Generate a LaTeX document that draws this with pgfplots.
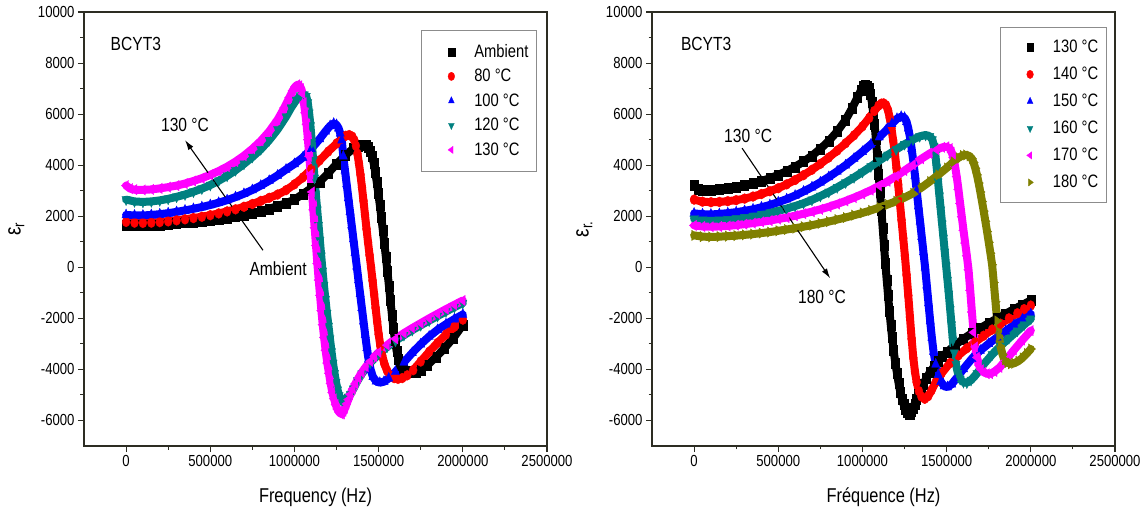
\documentclass[border=0pt]{standalone}
\usepackage{fontspec}
\setmainfont{Liberation Sans}[FakeStretch=0.82]
\usepackage{pgfplots}
\usepackage{pgfplotstable}
\pgfplotsset{compat=1.18}
\usetikzlibrary{arrows.meta}

\definecolor{cBlack}{RGB}{0,0,0}
\definecolor{cRed}{RGB}{255,0,0}
\definecolor{cBlue}{RGB}{0,0,255}
\definecolor{cTeal}{RGB}{0,128,128}
\definecolor{cMag}{RGB}{255,0,255}
\definecolor{cOlive}{RGB}{128,128,0}
\definecolor{axisgray}{RGB}{45,45,35}

% real part of the permittivity, f in kHz
\pgfplotstableread{
f e
0 1660
50 1640
100 1640
150 1650
200 1670
250 1690
300 1720
350 1750
400 1780
450 1810
500 1850
550 1890
600 1940
650 1990
700 2050
750 2120
800 2200
850 2290
900 2400
950 2510
1000 2650
1050 2870
1100 3100
1150 3350
1200 3680
1250 4050
1300 4380
1350 4650
1380 4740
1405 4780
1425 4790
1440 4720
1452 4560
1462 4340
1471 4060
1480 3720
1489 3330
1498 2900
1507 2440
1516 1950
1525 1450
1534 930
1543 400
1552 -150
1561 -720
1570 -1300
1579 -1870
1588 -2400
1597 -2870
1607 -3280
1618 -3600
1630 -3830
1645 -3980
1665 -4070
1690 -4100
1720 -4090
1750 -4020
1790 -3830
1840 -3520
1890 -3180
1945 -2760
2000 -2260
}\tAmb

\pgfplotstableread{
f e
0 1780
50 1750
100 1740
150 1750
200 1770
250 1800
300 1840
350 1880
400 1930
450 1980
500 2040
550 2110
600 2190
650 2270
700 2370
750 2480
800 2600
850 2720
900 2850
950 3020
1000 3250
1050 3520
1100 3850
1150 4190
1200 4530
1250 4850
1280 5030
1305 5150
1325 5180
1343 5120
1355 4980
1365 4760
1374 4450
1383 4070
1392 3630
1401 3130
1410 2600
1419 2050
1428 1500
1437 980
1446 480
1455 0
1464 -520
1473 -1050
1482 -1590
1491 -2120
1500 -2620
1510 -3070
1521 -3450
1534 -3780
1550 -4050
1570 -4240
1592 -4340
1615 -4370
1640 -4340
1670 -4230
1705 -4030
1750 -3690
1800 -3310
1850 -2960
1900 -2630
1950 -2330
2000 -2050
}\tEighty

\pgfplotstableread{
f e
0 2050
50 2030
100 2030
150 2050
200 2080
250 2120
300 2170
350 2230
400 2290
450 2360
500 2440
550 2530
600 2630
650 2750
700 2880
750 3030
800 3200
850 3390
900 3600
950 3830
1000 4050
1050 4300
1100 4640
1150 5030
1185 5330
1212 5540
1233 5630
1250 5580
1262 5450
1272 5250
1281 4980
1290 4350
1300 3800
1310 3260
1320 2720
1330 2180
1340 1650
1350 1110
1360 570
1370 40
1380 -500
1390 -1040
1400 -1580
1410 -2110
1420 -2640
1430 -3150
1440 -3600
1452 -4000
1466 -4290
1485 -4460
1507 -4520
1532 -4480
1560 -4350
1600 -4090
1650 -3720
1700 -3350
1750 -3010
1800 -2710
1850 -2450
1900 -2230
1950 -2030
2000 -1850
}\tHundred

\pgfplotstableread{
f e
0 2650
50 2580
100 2560
150 2580
200 2620
250 2680
300 2760
350 2850
400 2960
450 3080
500 3220
550 3390
600 3580
650 3800
700 4050
750 4320
800 4620
850 4980
900 5400
950 5900
980 6250
1010 6550
1035 6720
1058 6760
1070 6700
1079 6450
1087 6050
1095 5550
1103 4900
1111 4200
1119 3500
1127 2850
1135 2250
1143 1650
1151 1050
1159 450
1167 -150
1175 -700
1184 -1250
1193 -1800
1202 -2300
1211 -2800
1220 -3300
1229 -3750
1238 -4150
1247 -4500
1256 -4800
1265 -5020
1274 -5170
1283 -5220
1293 -5190
1305 -5150
1318 -5080
1332 -4980
1350 -4760
1375 -4440
1400 -4170
1450 -3740
1500 -3400
1550 -3120
1600 -2880
1650 -2660
1700 -2460
1750 -2270
1800 -2090
1850 -1910
1900 -1730
1950 -1560
2000 -1400
}\tOneTwenty

\pgfplotstableread{
f e
0 3200
25 3080
50 3040
100 3030
150 3050
200 3090
250 3140
300 3200
350 3280
400 3380
450 3490
500 3620
550 3770
600 3940
650 4140
700 4370
750 4640
800 4950
850 5320
900 5780
940 6250
970 6650
990 6920
1005 7080
1018 7150
1030 7110
1040 7000
1048 6800
1056 6450
1064 6050
1072 5600
1080 5000
1088 4350
1096 3650
1104 2950
1112 2250
1120 1550
1128 850
1136 150
1144 -500
1152 -1100
1160 -1700
1168 -2250
1176 -2750
1185 -3250
1195 -3750
1205 -4150
1215 -4550
1225 -4900
1235 -5150
1245 -5380
1255 -5550
1265 -5670
1275 -5740
1284 -5740
1292 -5640
1300 -5520
1310 -5350
1320 -5180
1332 -4980
1346 -4770
1362 -4560
1380 -4340
1400 -4120
1425 -3890
1450 -3680
1475 -3500
1500 -3330
1550 -3050
1600 -2800
1650 -2580
1700 -2380
1750 -2190
1800 -2000
1850 -1820
1900 -1640
1950 -1470
2000 -1300
}\tOneThirty

\pgfplotstableread{
f e
0 2650
50 2570
100 2550
150 2560
200 2590
250 2630
300 2690
350 2770
400 2870
450 2980
500 3100
550 3250
600 3420
650 3610
700 3820
750 4050
800 4300
850 4570
900 4860
950 5170
1000 5520
1040 5850
1070 6120
1095 6330
1112 6410
1126 6420
1140 6350
1152 6150
1162 5850
1172 5450
1182 4980
1192 4500
1202 3900
1212 3250
1222 2550
1232 1850
1242 1150
1252 450
1262 -300
1272 -1100
1282 -1950
1292 -2800
1302 -3550
1312 -4100
1322 -4500
1335 -4850
1350 -5060
1370 -5150
1390 -5050
1410 -4820
1435 -4500
1470 -4150
1520 -3750
1570 -3450
1620 -3170
1670 -2930
1720 -2680
1770 -2440
1820 -2210
1870 -2000
1920 -1800
1960 -1640
2000 -1500
}\tOneForty

\pgfplotstableread{
f e
0 2110
50 2080
100 2070
150 2090
200 2120
250 2160
300 2210
350 2270
400 2350
450 2440
500 2550
550 2670
600 2810
650 2970
700 3140
750 3330
800 3540
850 3760
900 4000
950 4260
1000 4530
1050 4810
1100 5100
1140 5360
1175 5620
1205 5820
1230 5900
1250 5860
1262 5700
1272 5450
1282 5100
1292 4650
1302 4150
1312 3600
1322 3000
1332 2400
1342 1800
1352 1200
1362 600
1372 0
1382 -700
1392 -1400
1402 -2100
1412 -2750
1422 -3300
1435 -3800
1450 -4200
1465 -4480
1485 -4650
1505 -4690
1530 -4580
1560 -4330
1600 -3980
1650 -3580
1700 -3260
1750 -2990
1800 -2740
1850 -2500
1900 -2260
1950 -2040
2000 -1830
}\tOneFifty

\pgfplotstableread{
f e
0 1900
50 1860
100 1850
150 1860
200 1880
250 1910
300 1950
350 2000
400 2060
450 2130
500 2210
550 2300
600 2400
650 2510
700 2640
750 2790
800 2950
850 3130
900 3320
950 3520
1000 3730
1050 3950
1100 4180
1150 4400
1200 4610
1250 4820
1300 5000
1340 5130
1375 5180
1400 5130
1415 5000
1425 4750
1433 4400
1441 3900
1449 3350
1457 2800
1465 2250
1473 1700
1481 1150
1489 600
1497 50
1505 -500
1513 -1050
1521 -1650
1529 -2250
1537 -2850
1545 -3350
1555 -3800
1567 -4150
1580 -4380
1600 -4500
1620 -4520
1645 -4420
1680 -4160
1720 -3800
1770 -3420
1820 -3080
1870 -2780
1920 -2490
1960 -2250
2000 -2020
}\tOneSixty

\pgfplotstableread{
f e
0 1640
50 1600
100 1590
150 1600
200 1620
250 1650
300 1690
350 1730
400 1780
450 1830
500 1890
550 1950
600 2020
650 2100
700 2180
750 2270
800 2370
850 2480
900 2600
950 2730
1000 2870
1050 3020
1100 3190
1150 3370
1200 3570
1250 3790
1300 4020
1350 4250
1400 4460
1440 4610
1475 4700
1500 4720
1520 4650
1530 4500
1540 4300
1550 3950
1560 3550
1570 3050
1580 2500
1590 1980
1600 1450
1610 950
1620 450
1630 -100
1640 -900
1650 -1750
1660 -2550
1670 -3120
1680 -3530
1692 -3830
1705 -4010
1720 -4110
1740 -4170
1760 -4170
1785 -4080
1815 -3920
1850 -3650
1900 -3240
1950 -2850
2000 -2480
}\tOneSeventy

\pgfplotstableread{
f e
0 1250
50 1200
100 1190
150 1200
200 1220
250 1240
300 1270
350 1300
400 1340
450 1380
500 1430
550 1480
600 1530
650 1590
700 1650
750 1720
800 1790
850 1870
900 1950
950 2040
1000 2130
1050 2230
1100 2340
1150 2460
1200 2590
1250 2730
1300 2900
1350 3120
1400 3360
1450 3620
1500 3890
1540 4130
1570 4290
1595 4380
1615 4400
1635 4360
1650 4250
1660 4100
1670 3880
1680 3620
1690 3300
1700 2950
1710 2580
1720 2200
1730 1800
1740 1400
1750 980
1760 550
1770 100
1780 -600
1790 -1350
1800 -2100
1810 -2700
1820 -3100
1832 -3420
1845 -3620
1860 -3730
1880 -3780
1900 -3760
1925 -3680
1950 -3550
1975 -3380
2000 -3200
}\tOneEighty

\pgfplotsset{
  /pgfplots/table/khz/.style={x expr=\thisrow{f}*1000, y=e},
  panel/.style={
    scale only axis, width=463pt, height=434pt,
    xmin=-250000, xmax=2500000, ymin=-7000, ymax=10000,
    scaled x ticks=false, scaled y ticks=false,
    xtick={0,500000,1000000,1500000,2000000,2500000},
    xticklabels={0,500000,1000000,1500000,2000000,2500000},
    ytick={-6000,-4000,-2000,0,2000,4000,6000,8000,10000},
    yticklabels={-6000,-4000,-2000,0,2000,4000,6000,8000,10000},
    minor x tick num=1, minor y tick num=1,
    tick pos=left, tick align=outside,
    major tick length=6pt, minor tick length=3.5pt,
    every tick/.style={axisgray, line width=1.1pt},
    axis line style={axisgray, line width=1.3pt},
    tick label style={font=\fontsize{16}{18}\selectfont},
    label style={font=\fontsize{20}{22}\selectfont},
    xlabel style={at={(axis description cs:0.5,-0.1175)}, anchor=center},
    legend cell align=left,
    legend image code/.code={\path (0pt,-4pt) (44pt,4pt); \draw[##1, mark size=4.2pt] plot coordinates {(21.5pt,0pt)};},
    legend style={fill=white, draw=black!45, line width=0.8pt, inner xsep=8pt,
      nodes={inner xsep=0pt, inner ysep=2pt, font=\fontsize{18}{20}\selectfont, text height=12.5pt, text depth=2pt}},
  },
  band/.style={#1, line width=8pt, line join=round, line cap=round, forget plot, mark=none},
  sq/.style={#1, only marks, mark=square*, mark size=5pt, mark options={fill=#1, draw=#1, line width=0.3pt, xscale=0.8}},
  ci/.style={#1, only marks, mark=*, mark size=5pt, mark options={fill=#1, draw=#1, line width=0.3pt, xscale=0.8}},
  tu/.style={#1, only marks, mark=triangle*, mark size=6pt, mark options={fill=#1, draw=#1, line width=0.3pt, xscale=0.8}},
  td/.style={#1, only marks, mark=triangle*, mark size=6pt, mark options={fill=#1, draw=#1, line width=0.3pt, xscale=0.8, rotate=180}},
  tl/.style={#1, only marks, mark=triangle*, mark size=6pt, mark options={fill=#1, draw=#1, line width=0.3pt, xscale=0.8, rotate=90}},
  tr/.style={#1, only marks, mark=triangle*, mark size=6pt, mark options={fill=#1, draw=#1, line width=0.3pt, xscale=0.8, rotate=-90}},
}

\begin{document}
\begin{tikzpicture}
\useasboundingbox (0pt,0pt) rectangle (1147pt,516pt);

% left panel: heating from ambient to 130 C
\begin{axis}[panel, at={(84pt,70pt)}, anchor=south west,
    xlabel={Frequency (Hz)},
    ylabel={ε\textsubscript{r}},
    ylabel style={at={(axis description cs:-0.146,0.5)}, anchor=center, font=\fontsize{23}{25}\selectfont},
    legend style={at={(0.978,0.958)}, anchor=north east, row sep=6pt, inner ysep=12pt}]
  \addplot[band=cBlack] table[khz] {\tAmb};
  \addplot[sq=cBlack] table[khz] {\tAmb};
  \addlegendentry{Ambient}
  \addplot[band=cRed] table[khz] {\tEighty};
  \addplot[ci=cRed] table[khz] {\tEighty};
  \addlegendentry{80 °C}
  \addplot[band=cBlue] table[khz] {\tHundred};
  \addplot[tu=cBlue] table[khz] {\tHundred};
  \addlegendentry{100 °C}
  \addplot[band=cTeal] table[khz] {\tOneTwenty};
  \addplot[td=cTeal] table[khz] {\tOneTwenty};
  \addlegendentry{120 °C}
  \addplot[band=cMag] table[khz] {\tOneThirty};
  \addplot[tl=cMag] table[khz] {\tOneThirty};
  \addlegendentry{130 °C}
  \node[font=\fontsize{19}{21}\selectfont] at (rel axis cs:0.112,0.926) {BCYT3};
  \node[font=\fontsize{19}{21}\selectfont] at (axis cs:350000,5570) {130 °C};
  \node[font=\fontsize{19}{21}\selectfont] at (axis cs:903000,-40) {Ambient};
  \draw[-{Latex[length=10pt,width=6pt]}, line width=1.1pt] (axis cs:813000,667) -- (axis cs:350000,4980);
\end{axis}

% right panel: 130 C to 180 C
\begin{axis}[panel, at={(652pt,70pt)}, anchor=south west,
    xlabel={Fréquence (Hz)},
    ylabel={ε\textsubscript{r.}},
    ylabel style={at={(axis description cs:-0.146,0.5)}, anchor=center, font=\fontsize{23}{25}\selectfont},
    legend style={at={(0.982,0.966)}, anchor=north east, row sep=8.5pt, inner ysep=11pt}]
  \addplot[band=cBlack] table[khz] {\tOneThirty};
  \addplot[sq=cBlack] table[khz] {\tOneThirty};
  \addlegendentry{130 °C}
  \addplot[band=cRed] table[khz] {\tOneForty};
  \addplot[ci=cRed] table[khz] {\tOneForty};
  \addlegendentry{140 °C}
  \addplot[band=cBlue] table[khz] {\tOneFifty};
  \addplot[tu=cBlue] table[khz] {\tOneFifty};
  \addlegendentry{150 °C}
  \addplot[band=cTeal] table[khz] {\tOneSixty};
  \addplot[td=cTeal] table[khz] {\tOneSixty};
  \addlegendentry{160 °C}
  \addplot[band=cMag] table[khz] {\tOneSeventy};
  \addplot[tl=cMag] table[khz] {\tOneSeventy};
  \addlegendentry{170 °C}
  \addplot[band=cOlive] table[khz] {\tOneEighty};
  \addplot[tr=cOlive] table[khz] {\tOneEighty};
  \addlegendentry{180 °C}
  \node[font=\fontsize{19}{21}\selectfont] at (rel axis cs:0.117,0.926) {BCYT3};
  \node[font=\fontsize{19}{21}\selectfont] at (axis cs:321000,5138) {130 °C};
  \node[font=\fontsize{19}{21}\selectfont] at (axis cs:760000,-1177) {180 °C};
  \draw[-{Latex[length=10pt,width=6pt]}, line width=1.1pt] (axis cs:285000,4667) -- (axis cs:808000,-431);
\end{axis}
\end{tikzpicture}
\end{document}
